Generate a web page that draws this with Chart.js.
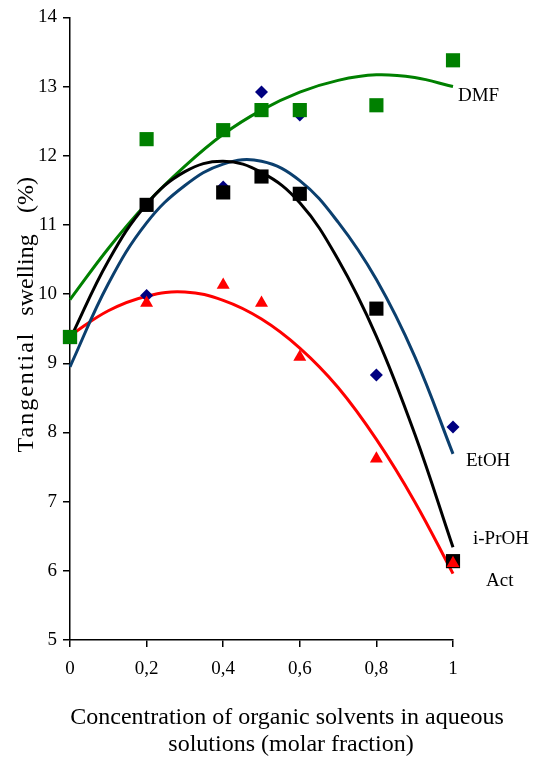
<!DOCTYPE html>
<html>
<head>
<meta charset="utf-8">
<script src="https://cdn.jsdelivr.net/npm/chart.js@4.4.0/dist/chart.umd.min.js"></script>
<style>
html,body{margin:0;padding:0;background:#fff;}
#wrap{width:541px;height:760px;position:relative;}
</style>
</head>
<body>
<div id="wrap"><canvas id="c" width="541" height="760"></canvas></div>
<script>
// Measured points
const xPts = [0, 0.2, 0.4, 0.5, 0.6, 0.8, 1];
const dmfPts = [9.38, 12.24, 12.37, 12.66, 12.66, 12.73, 13.38];
const etohPts = [9.38, 9.98, 11.55, 12.92, 12.59, 8.83, 8.08];
const iprohPts = [9.38, 11.29, 11.47, 11.70, 11.45, 9.79, 6.14];
const actPts = [9.38, 9.87, 10.13, 9.87, 9.09, 7.62, 6.11];

// Trend curves
const xCurve = [0, 0.1, 0.2, 0.3, 0.4, 0.5, 0.6, 0.7, 0.8, 0.9, 1];
const dmfCurve = [9.92, 10.66, 11.31, 11.85, 12.31, 12.66, 12.92, 13.09, 13.17, 13.13, 13.0];
const etohCurve = [8.95, 10.15, 11.03, 11.57, 11.88, 11.92, 11.64, 11.04, 10.21, 9.1, 7.69];
const iprohCurve = [9.35, 10.48, 11.3, 11.77, 11.92, 11.76, 11.32, 10.5, 9.39, 7.98, 6.34];
const actCurve = [9.4, 9.76, 9.97, 10.03, 9.91, 9.64, 9.22, 8.65, 7.9, 7.0, 5.96];

const xTicks = ['0', '0,2', '0,4', '0,6', '0,8', '1'];
const seriesLabels = ['DMF', 'EtOH', 'i-PrOH', 'Act'];
const xTitle = ['Concentration of organic solvents in aqueous', 'solutions (molar fraction)'];
const yTitle = ['Tangential', 'swelling', '(%)'];

const pts = (xs, ys) => xs.map((x, i) => ({x: x, y: ys[i]}));
const FONT = "'Liberation Serif', 'DejaVu Serif', serif";

const curve = (data, color, order) => ({
  type: 'line', data: data, borderColor: color, borderWidth: 3,
  pointRadius: 0, fill: false, tension: 0.4, order: order, clip: false
});
const marks = (data, color, style, r, order) => ({
  type: 'scatter', data: data, backgroundColor: color, borderColor: color,
  borderWidth: 0, pointStyle: style, pointRadius: r, pointHoverRadius: r,
  showLine: false, order: order, clip: false
});

const textPlugin = {
  id: 'texts',
  afterDraw(chart) {
    const ctx = chart.ctx;
    const xs = chart.scales.x, ys = chart.scales.y;
    ctx.save();
    ctx.fillStyle = '#000';
    ctx.textBaseline = 'middle';
    // series labels
    ctx.font = "19px " + FONT;
    ctx.textAlign = 'left';
    const lx = xs.getPixelForValue(1);
    ctx.fillText(seriesLabels[0], lx + 5, ys.getPixelForValue(12.86));
    ctx.fillText(seriesLabels[1], lx + 13, ys.getPixelForValue(7.59));
    ctx.fillText(seriesLabels[2], lx + 20, ys.getPixelForValue(6.46));
    ctx.fillText(seriesLabels[3], lx + 33, ys.getPixelForValue(5.85));
    // x title
    ctx.font = "24px " + FONT;
    ctx.textAlign = 'center';
    ctx.fillText(xTitle[0], 287, 718);
    ctx.fillText(xTitle[1], 291, 745);
    // y title (words placed as in the source)
    ctx.translate(27, 0);
    ctx.rotate(-Math.PI / 2);
    ctx.letterSpacing = '2px';
    ctx.fillText(yTitle[0], -392, 0);
    ctx.letterSpacing = '0px';
    ctx.fillText(yTitle[1], -275, 0);
    ctx.fillText(yTitle[2], -195, 0);
    ctx.restore();
  }
};

new Chart(document.getElementById('c'), {
  data: {
    datasets: [
      curve(pts(xCurve, dmfCurve), '#008000', 10),
      curve(pts(xCurve, etohCurve), '#0b3f6e', 11),
      curve(pts(xCurve, iprohCurve), '#000000', 9),
      curve(pts(xCurve, actCurve), '#ff0000', 12),
      marks(pts(xPts, etohPts), '#000080', 'rectRot', 6.5, 5),
      marks(pts(xPts, iprohPts), '#000000', 'rect', 10, 4),
      marks(pts(xPts, actPts), '#ff0000', 'triangle', 7.5, 2),
      marks(pts(xPts, dmfPts), '#008000', 'rect', 10, 1)
    ]
  },
  options: {
    responsive: false,
    animation: false,
    events: [],
    layout: {padding: {left: 0, right: 88, top: 15, bottom: 0}},
    plugins: {legend: {display: false}, tooltip: {enabled: false}},
    scales: {
      x: {
        type: 'linear', min: 0, max: 1,
        afterBuildTicks(s) { s.ticks = [0, 0.2, 0.4, 0.6, 0.8, 1].map(v => ({value: v})); },
        afterFit(s) { s.height = 120; },
        grid: {display: true, drawOnChartArea: false, drawTicks: true, tickLength: 7, color: '#000', lineWidth: 1.5},
        border: {display: true, color: '#000', width: 1.5},
        ticks: {
          color: '#000', padding: 11, maxRotation: 0, autoSkip: false,
          font: {family: FONT, size: 19},
          callback: (v, i) => xTicks[i]
        }
      },
      y: {
        type: 'linear', min: 5, max: 14,
        afterFit(s) { s.width = 70; },
        grid: {display: true, drawOnChartArea: false, drawTicks: true, tickLength: 7, color: '#000', lineWidth: 1.5},
        border: {display: true, color: '#000', width: 1.5},
        ticks: {
          color: '#000', padding: 6, stepSize: 1,
          font: {family: FONT, size: 19}
        }
      }
    }
  },
  plugins: [textPlugin]
});
</script>
</body>
</html>
